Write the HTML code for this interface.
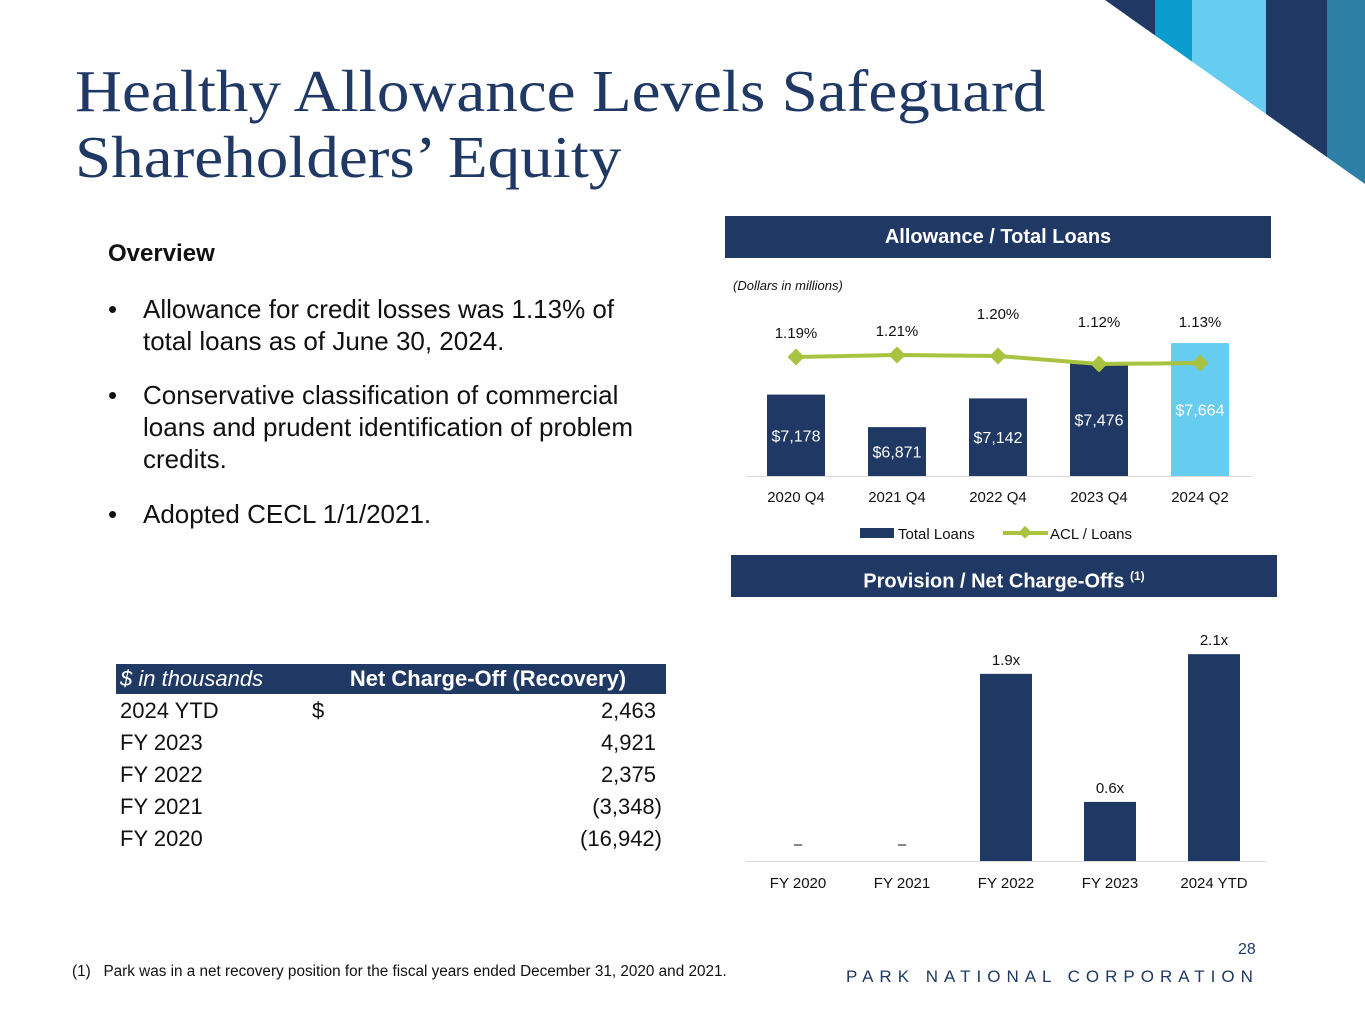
<!DOCTYPE html>
<html><head><meta charset="utf-8">
<style>
body{margin:0;width:1365px;height:1024px;position:relative;background:#fff;font-family:"Liberation Sans",sans-serif;overflow:hidden}
.abs{position:absolute}
h1{position:absolute;left:75px;top:58px;margin:0;font-family:"Liberation Serif",serif;font-weight:normal;font-size:59px;line-height:66px;color:#1f3864;transform:scaleX(1.103);transform-origin:0 0;white-space:nowrap}
.hdr{position:absolute;background:#1f3864;color:#fff;font-weight:bold;font-size:20px;text-align:center}
.bul{position:absolute;left:108px;font-size:26px;line-height:32px;color:#111}
.bul span{position:absolute;left:0}
.bul div{margin-left:35px}
table{position:absolute;left:116px;top:664px;border-collapse:collapse;font-size:22px;color:#111;width:550px}
td{padding:0}
</style></head><body>
<svg class="abs" style="left:0;top:0" width="1365" height="200">
<defs><clipPath id="cp"><polygon points="1105,0 1365,0 1365,184"/></clipPath></defs>
<g clip-path="url(#cp)">
<rect x="1100" y="0" width="55" height="200" fill="#1f3864"/>
<rect x="1155" y="0" width="37" height="200" fill="#0a9ccc"/>
<rect x="1192" y="0" width="74" height="200" fill="#66ccf0"/>
<rect x="1266" y="0" width="61" height="200" fill="#1f3864"/>
<rect x="1327" y="0" width="38" height="200" fill="#2e7fa6"/>
</g></svg>
<h1>Healthy Allowance Levels Safeguard<br>Shareholders’ Equity</h1>
<div class="abs" style="left:108px;top:240px;font-size:24px;font-weight:bold;color:#111">Overview</div>
<div class="bul" style="top:293px"><span>•</span><div>Allowance for credit losses was 1.13% of<br>total loans as of June 30, 2024.</div></div>
<div class="bul" style="top:379px"><span>•</span><div>Conservative classification of commercial<br>loans and prudent identification of problem<br>credits.</div></div>
<div class="bul" style="top:498px"><span>•</span><div>Adopted CECL 1/1/2021.</div></div>

<div class="hdr" style="left:725px;top:216px;width:546px;height:42px;line-height:42px">Allowance / Total Loans</div>
<div class="hdr" style="left:731px;top:555px;width:546px;height:42px;line-height:42px">Provision / Net Charge-Offs <sup style="font-size:12px">(1)</sup></div>

<table>
<tr style="background:#1f3864;color:#fff;height:30px"><td style="font-style:italic;width:180px;padding-left:4px">$ in thousands</td><td colspan="2" style="font-weight:bold;text-align:center;padding-left:10px">Net Charge-Off (Recovery)</td></tr>
<tr style="height:33px"><td style="padding-left:4px">2024 YTD</td><td style="padding-left:12px">$</td><td style="text-align:right;padding-right:10px">2,463</td></tr>
<tr style="height:32px"><td style="padding-left:4px">FY 2023</td><td></td><td style="text-align:right;padding-right:10px">4,921</td></tr>
<tr style="height:32px"><td style="padding-left:4px">FY 2022</td><td></td><td style="text-align:right;padding-right:10px">2,375</td></tr>
<tr style="height:32px"><td style="padding-left:4px">FY 2021</td><td></td><td style="text-align:right;padding-right:4px">(3,348)</td></tr>
<tr style="height:32px"><td style="padding-left:4px">FY 2020</td><td></td><td style="text-align:right;padding-right:4px">(16,942)</td></tr>
</table>

<svg id="c1" class="abs" style="left:0;top:0" width="1365" height="1024"></svg>

<div class="abs" style="left:72px;top:963px;font-size:15.3px;color:#111">(1)&nbsp;&nbsp;&nbsp;Park was in a net recovery position for the fiscal years ended December 31, 2020 and 2021.</div>
<div class="abs" style="left:1238px;top:941px;font-size:16px;color:#1f3864">28</div>
<div class="abs" style="left:846px;top:967px;font-size:17px;color:#1f3864;letter-spacing:6.0px">PARK NATIONAL CORPORATION</div>

<script>
const loanCats=["2020 Q4","2021 Q4","2022 Q4","2023 Q4","2024 Q2"];
const loanVals=[7178,6871,7142,7476,7664];
const loanLabels=["$7,178","$6,871","$7,142","$7,476","$7,664"];
const aclVals=[1.19,1.21,1.20,1.12,1.13];
const aclLabels=["1.19%","1.21%","1.20%","1.12%","1.13%"];
const provCats=["FY 2020","FY 2021","FY 2022","FY 2023","FY 2024 YTD"];
const provVals=[null,null,1.9,0.6,2.1];
const provLabels=["–","–","1.9x","0.6x","2.1x"];
const provCatLabels=["FY 2020","FY 2021","FY 2022","FY 2023","2024 YTD"];

const NS="http://www.w3.org/2000/svg";
const svg=document.getElementById('c1');
function mk(t,a,p){const e=document.createElementNS(NS,t);for(const k in a)e.setAttribute(k,a[k]);(p||svg).appendChild(e);return e;}
function txt(x,y,s,size,fill,anchor,extra){const e=mk('text',Object.assign({x:x,y:y,'font-size':size,fill:fill,'text-anchor':anchor||'middle','font-family':'Liberation Sans, sans-serif'},extra||{}));e.textContent=s;return e;}

const x1=i=>796+i*101;
const yL=v=>476-(v-6410)*0.106;
const yA=v=>364-(v-1.12)*100;
const it=mk('text',{x:733,y:290,'font-size':13,fill:'#111','font-style':'italic','font-family':'Liberation Sans, sans-serif'});it.textContent='(Dollars in millions)';


loanVals.forEach((v,i)=>{
  const r=mk('rect',{x:x1(i)-29,y:yL(v),width:58,height:476-yL(v),fill:i===4?'#66ccf0':'#1f3864'});
  
  
  const t=txt(x1(i),(yL(v)+476)/2+6,loanLabels[i],16,'#fff');
  
  
  const c=txt(x1(i),502,loanCats[i],15,'#111');
  
  
});
mk('line',{x1:746,x2:1252,y1:476.5,y2:476.5,stroke:'#d9d9d9','stroke-width':1});
const pl=mk('polyline',{points:aclVals.map((v,i)=>x1(i)+','+yA(v)).join(' '),fill:'none',stroke:'#a9c23f','stroke-width':4});


aclVals.forEach((v,i)=>{
  const d=mk('rect',{x:x1(i)-6,y:yA(v)-6,width:12,height:12,fill:'#a9c23f',transform:`rotate(45 ${x1(i)} ${yA(v)})`});
  
  
  const t=txt(x1(i),yA(v)-(i===2||i===3?37:i===4?36:19),aclLabels[i],15,'#111');
  
  
});
const lg1=mk('rect',{x:860,y:528,width:34,height:10,fill:'#1f3864'});


txt(898,539,'Total Loans',15,'#111','start');
const lg2=mk('line',{x1:1003,x2:1048,y1:533,y2:533,stroke:'#a9c23f','stroke-width':4});


mk('rect',{x:1020,y:528,width:9,height:9,fill:'#a9c23f',transform:'rotate(45 1025 533)'});
txt(1050,539,'ACL / Loans',15,'#111','start');

const x2=i=>798+i*104;
const yP=v=>861-v*98.5;
provVals.forEach((v,i)=>{
  if(v!==null){
    const r=mk('rect',{x:x2(i)-26,y:yP(v),width:52,height:861-yP(v),fill:'#1f3864'});
    
    
    const t=txt(x2(i),yP(v)-9,provLabels[i],15,'#111');
    
    
  } else {
    const t=txt(x2(i),849,provLabels[i],15,'#111');
    
    
  }
  const c=txt(x2(i),888,provCatLabels[i],15,'#111');
  
  
});
mk('line',{x1:746,x2:1266,y1:861.5,y2:861.5,stroke:'#d9d9d9','stroke-width':1});
</script>
</body></html>
